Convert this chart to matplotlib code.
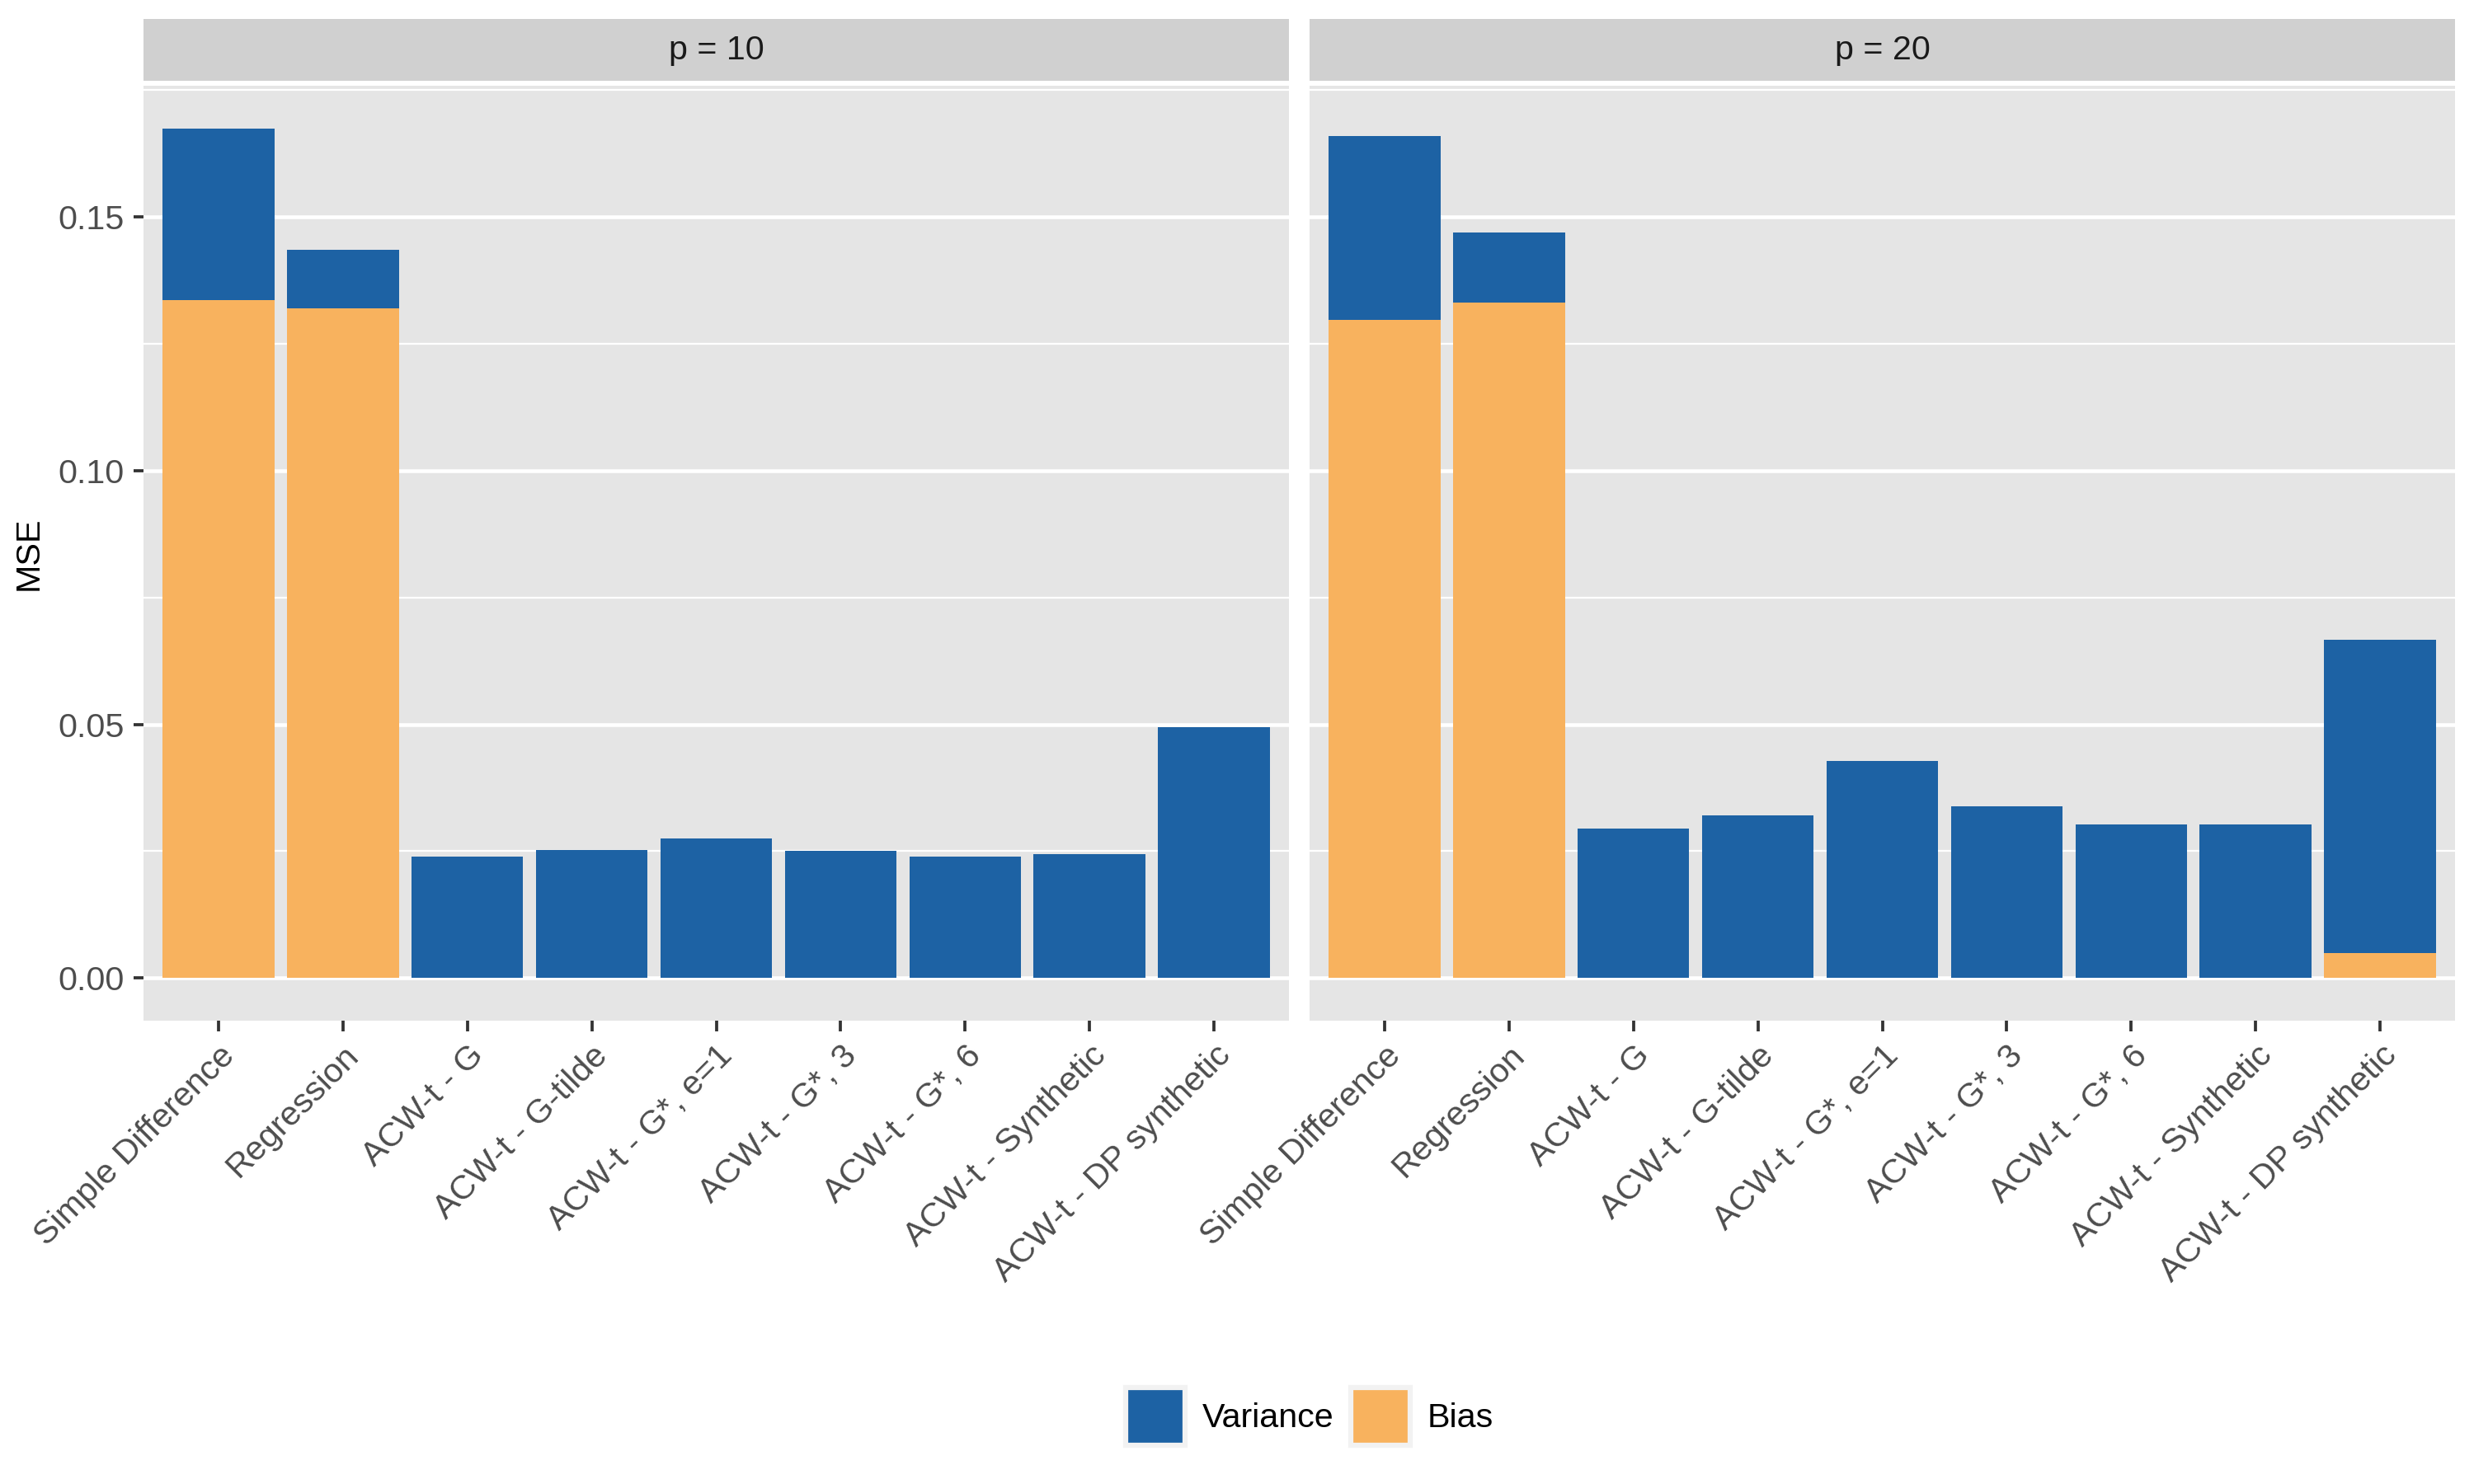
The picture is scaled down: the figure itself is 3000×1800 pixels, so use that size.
import matplotlib
matplotlib.use("Agg")
import matplotlib.pyplot as plt
from matplotlib.patches import Patch
import numpy as np

plt.rcParams['font.family'] = ['Liberation Sans', 'DejaVu Sans']

methods = ["Simple Difference", "Regression", "ACW-t - G", "ACW-t - G-tilde",
           "ACW-t - G*, e=1", "ACW-t - G*, 3", "ACW-t - G*, 6",
           "ACW-t - Synthetic", "ACW-t - DP synthetic"]
panels = ["p = 10", "p = 20"]

# total MSE (bias + variance) and bias part, per panel
mse_p10 = [0.1674, 0.1435, 0.0239, 0.0252, 0.0275, 0.0251, 0.0240, 0.0244, 0.0495]
bias_p10 = [0.1336, 0.1320, 0.0, 0.0, 0.0, 0.0, 0.0, 0.0, 0.0]
mse_p20 = [0.1659, 0.1469, 0.0294, 0.0321, 0.0428, 0.0339, 0.0302, 0.0303, 0.0667]
bias_p20 = [0.1296, 0.1331, 0.0, 0.0, 0.0, 0.0, 0.0, 0.0, 0.0050]

blue = "#1d62a4"
orange = "#f8b25e"
panel_bg = "#e5e5e5"
strip_bg = "#d0d0d0"
fs = 9.9

fig = plt.figure(figsize=(10, 6), dpi=300)

W, H = 3000, 1800
def frac(x0, y0, x1, y1):
    return [x0 / W, 1 - y1 / H, (x1 - x0) / W, (y1 - y0) / H]

lefts = [174, 1588]
width = 1389
top, bottom = 104, 1238
ymax = max(max(mse_p10), max(mse_p20))
pad = 0.05 * ymax

data = [(mse_p10, bias_p10), (mse_p20, bias_p20)]
x = np.arange(len(methods))
for i, (mse, bias) in enumerate(data):
    ax = fig.add_axes(frac(lefts[i], top, lefts[i] + width, bottom))
    ax.set_facecolor(panel_bg)
    mse = np.array(mse)
    bias = np.array(bias)
    var = mse - bias
    ax.bar(x, bias, width=0.9, color=orange, zorder=3)
    ax.bar(x, var, bottom=bias, width=0.9, color=blue, zorder=3)
    ax.set_xlim(-0.6, len(methods) - 0.4)
    ax.set_ylim(-pad, ymax + pad)
    major = [0, 0.05, 0.10, 0.15]
    minor = [0.025, 0.075, 0.125, 0.175]
    for v in major:
        ax.axhline(v, color="white", lw=1.1, zorder=1)
    for v in minor:
        ax.axhline(v, color="white", lw=0.55, zorder=1)
    ax.set_yticks(major)
    ax.set_xticks(x)
    ax.set_xticklabels(methods, rotation=45, ha="right", va="top",
                       rotation_mode="anchor", fontsize=fs, color="#4d4d4d")
    for s in ax.spines.values():
        s.set_visible(False)
    ax.tick_params(axis="both", length=3, width=0.9, color="#333333",
                   labelsize=fs, labelcolor="#4d4d4d", pad=2.5)
    if i == 0:
        ax.set_yticklabels(["0.00", "0.05", "0.10", "0.15"])
        ax.set_ylabel("MSE", fontsize=fs, labelpad=4)
    else:
        ax.tick_params(axis="y", left=False, labelleft=False)

    sax = fig.add_axes(frac(lefts[i], 23, lefts[i] + width, 98))
    sax.set_facecolor(strip_bg)
    sax.set_xticks([])
    sax.set_yticks([])
    for s in sax.spines.values():
        s.set_visible(False)
    sax.text(0.5, 0.5, panels[i], ha="center", va="center",
             fontsize=fs, color="#1a1a1a", transform=sax.transAxes)

# legend
handles = [Patch(facecolor=blue, edgecolor="#f2f2f2", lw=1.5, label="Variance"),
           Patch(facecolor=orange, edgecolor="#f2f2f2", lw=1.5, label="Bias")]
fig.legend(handles=handles, loc="center", bbox_to_anchor=(1588 / W, 1 - 1718 / H),
           ncol=2, frameon=False, fontsize=fs, handlelength=1.75, handleheight=2.2,
           handletextpad=0.5, columnspacing=0.5)

fig.savefig("out.png", dpi=300)
